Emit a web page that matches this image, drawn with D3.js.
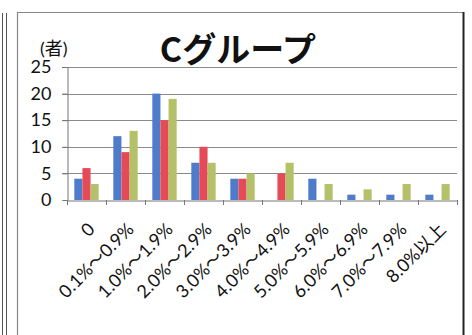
<!DOCTYPE html>
<html>
<head>
<meta charset="utf-8">
<script src="https://cdn.jsdelivr.net/npm/d3@7"></script>
<style>
  body { margin: 0; background: #fff; }
  svg { display: block; }
</style>
</head>
<body>
<svg width="472" height="335"></svg>
<script>
// data
const categories = ['0', '0.1%～0.9%', '1.0%～1.9%', '2.0%～2.9%', '3.0%～3.9%',
  '4.0%～4.9%', '5.0%～5.9%', '6.0%～6.9%', '7.0%～7.9%', '8.0%以上'];
const seriesNames = ['系列1', '系列2', '系列3'];
const seriesBlue = [4, 12, 20, 7, 4, 0, 4, 1, 1, 1];
const seriesRed = [6, 9, 15, 10, 4, 5, 0, 0, 0, 0];
const seriesGreen = [3, 13, 19, 7, 5, 7, 3, 2, 3, 3];
const yTicks = [0, 5, 10, 15, 20, 25];
const colors = ['#4f7cca', '#e44b57', '#b5c169'];

const allSeries = [seriesBlue, seriesRed, seriesGreen];
const rows = categories.map((c, i) => ({
  cat: c,
  vals: allSeries.map((s, k) => ({ name: seriesNames[k], v: s[i], color: colors[k] }))
}));

const svg = d3.select('svg');
const font = "Lato, 'Noto Sans CJK JP', sans-serif";

// frame bits from the scan
svg.append('line').attr('x1', 2.5).attr('x2', 2.5).attr('y1', 13).attr('y2', 335)
  .attr('stroke', '#555').attr('stroke-width', 1);
svg.append('line').attr('x1', 6.5).attr('x2', 6.5).attr('y1', 13).attr('y2', 335)
  .attr('stroke', '#555').attr('stroke-width', 1);
svg.append('path').attr('d', 'M17.5,340 V12.5 H463')
  .attr('fill', 'none').attr('stroke', '#888').attr('stroke-width', 1.2);
svg.append('line').attr('x1', 463.5).attr('x2', 463.5).attr('y1', 12).attr('y2', 335)
  .attr('stroke', '#222').attr('stroke-width', 2);

const x0 = d3.scaleBand().domain(categories).range([67, 457]).padding(0);
const x1 = d3.scaleBand().domain(seriesNames).range([0, x0.bandwidth()])
  .paddingInner(0).paddingOuter(0.9);
const y = d3.scaleLinear().domain([0, 25]).range([200, 67]);

// gridlines
svg.append('g')
  .selectAll('line')
  .data(yTicks.slice(1))
  .join('line')
  .attr('x1', 62).attr('x2', 457)
  .attr('y1', d => Math.round(y(d)) + 0.5).attr('y2', d => Math.round(y(d)) + 0.5)
  .attr('stroke', '#8a8a8a').attr('stroke-width', 1);

// y axis
const yAxis = svg.append('g').attr('transform', 'translate(67.5,0)')
  .call(d3.axisLeft(y).tickValues(yTicks).tickSize(5).tickPadding(11));
yAxis.select('.domain').attr('stroke', '#777');
yAxis.selectAll('.tick line').attr('stroke', '#777');
yAxis.selectAll('.tick text').attr('font-size', 18).attr('font-family', font).attr('fill', '#111');

// bars
svg.append('g')
  .selectAll('g')
  .data(rows)
  .join('g')
  .attr('transform', d => `translate(${x0(d.cat)},0)`)
  .selectAll('rect')
  .data(d => d.vals)
  .join('rect')
  .attr('x', d => x1(d.name))
  .attr('width', x1.bandwidth())
  .attr('y', d => y(d.v))
  .attr('height', d => y(0) - y(d.v))
  .attr('fill', d => d.color);

// x axis
const xAxis = svg.append('g').attr('transform', 'translate(0,200.5)')
  .call(d3.axisBottom(x0).tickSize(0).tickFormat(''));
xAxis.select('.domain').attr('stroke', '#777');
svg.append('g')
  .selectAll('line')
  .data(categories.concat(['end']))
  .join('line')
  .attr('x1', (d, i) => i < categories.length ? x0(d) + 0.5 : x0.range()[1] + 0.5)
  .attr('x2', (d, i) => i < categories.length ? x0(d) + 0.5 : x0.range()[1] + 0.5)
  .attr('y1', 200).attr('y2', 205)
  .attr('stroke', '#777');

// rotated category labels
svg.append('g')
  .selectAll('text')
  .data(categories)
  .join('text')
  .attr('transform', d => `translate(${x0(d) + x0.bandwidth() / 2 + 5},${226}) rotate(-45)`)
  .attr('text-anchor', 'end')
  .attr('dy', '0.35em')
  .attr('font-size', 18)
  .attr('font-family', font)
  .attr('fill', '#111')
  .text(d => d);

// unit label and title
svg.append('text').attr('x', 40).attr('y', 55)
  .attr('font-size', 18).attr('font-family', font).attr('fill', '#111')
  .text('(者)');
svg.append('text').attr('x', 238).attr('y', 62)
  .attr('text-anchor', 'middle')
  .attr('font-size', 34).attr('font-weight', 'bold')
  .attr('font-family', "'Noto Sans CJK JP', sans-serif").attr('fill', '#111')
  .text('Cグループ');
</script>
</body>
</html>
